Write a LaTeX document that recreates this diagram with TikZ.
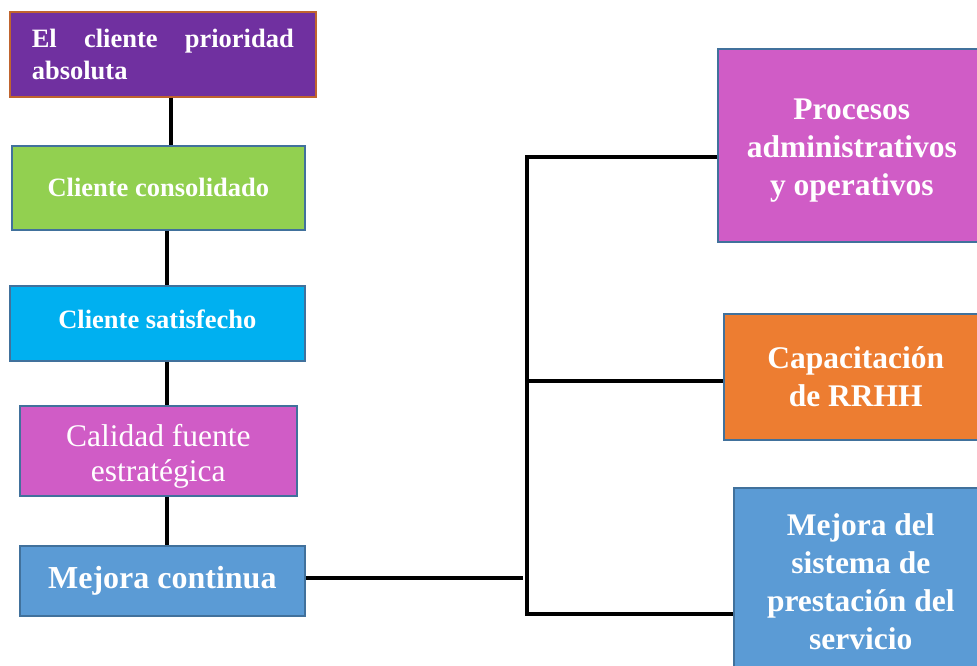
\documentclass[tikz,border=0pt]{standalone}
\usepackage{fontspec}
\setmainfont{Liberation Serif}
\definecolor{cpurple}{HTML}{7030A0}
\definecolor{cpurpleb}{HTML}{C0642E}
\definecolor{cgreen}{HTML}{92D050}
\definecolor{ccyan}{HTML}{00B0F0}
\definecolor{cmag}{HTML}{D05CC6}
\definecolor{cblue}{HTML}{5B9BD5}
\definecolor{corange}{HTML}{ED7D31}
\definecolor{cbord}{HTML}{41719C}
\tikzset{
  box/.style={draw=cbord, line width=1.6pt, inner sep=0pt, text=white, align=center, anchor=north west},
  conn/.style={line width=3.6pt, black},
  small/.style={font=\fontsize{26.5}{32}\selectfont\bfseries},
  big/.style={font=\fontsize{31.5}{38}\selectfont\bfseries},
}
\newcommand{\mystack}[2]{\raisebox{#1}[\height][\depth]{\begin{tabular}{@{}c@{}}#2\end{tabular}}}
\begin{document}
\begin{tikzpicture}[x=1pt,y=-1pt]
\useasboundingbox (0,0) rectangle (977,666);
\clip (0,0) rectangle (977,666);
\node[box, draw=cpurpleb, fill=cpurple, minimum width=306pt, minimum height=85pt, small, text width=262pt, align=justify] (b1) at (9,11) {El cliente prioridad\linebreak absoluta};
\node[box, fill=cgreen, minimum width=293pt, minimum height=84pt, small] (b2) at (11,145) {Cliente consolidado};
\node[box, fill=ccyan, minimum width=295pt, minimum height=75pt, small] (b3) at (9,285) {\raisebox{4pt}[\height][\depth]{Cliente satisfecho}};
\node[box, fill=cmag, minimum width=277pt, minimum height=90pt, font=\fontsize{31.5}{35}\selectfont] (b4) at (19,405) {\mystack{-6pt}{Calidad fuente\\estratégica}};
\node[box, fill=cblue, minimum width=285pt, minimum height=70pt, font=\fontsize{32}{36}\selectfont\bfseries] (b5) at (19,545) {Mejora continua};
\node[box, fill=cmag, minimum width=268pt, minimum height=193pt, big] (r1) at (717,48) {\mystack{-5pt}{Procesos\\administrativos\\y operativos}};
\node[box, fill=corange, minimum width=264pt, minimum height=126pt, big] (r2) at (723,313) {Capacitación\\de RRHH};
\node[box, fill=cblue, minimum width=254pt, minimum height=188pt, big] (r3) at (733,487) {Mejora del\\sistema de\\prestación del\\servicio};
\coordinate (j) at (523,578);
\coordinate (t) at (527,157);
\coordinate (m) at (527,381);
\coordinate (bt) at (527,614);
\draw[conn] (b1.south -| 171,0) -- (b2.north -| 171,0);
\draw[conn] (b2.south -| 167,0) -- (b3.north -| 167,0);
\draw[conn] (b3.south -| 167,0) -- (b4.north -| 167,0);
\draw[conn] (b4.south -| 167,0) -- (b5.north -| 167,0);
\draw[conn] (b5.east |- j) -- (j);
\draw[conn, line cap=rect] (t) -- (bt);
\draw[conn] (t) -- (t -| r1.west);
\draw[conn] (m) -- (m -| r2.west);
\draw[conn] (bt) -- (bt -| r3.west);
\end{tikzpicture}
\end{document}
